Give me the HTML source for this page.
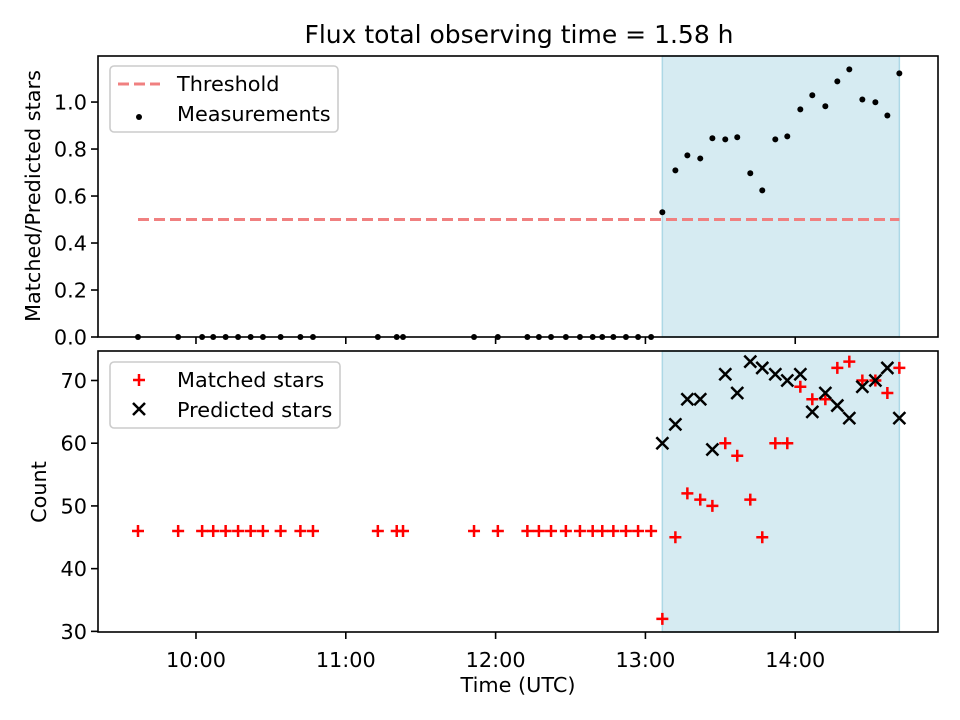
<!DOCTYPE html>
<html><head><meta charset="utf-8"><style>
body{margin:0;background:#fff}
svg{display:block;font-family:"DejaVu Sans","Liberation Sans",sans-serif}
</style></head><body>
<svg id="chart" width="960" height="720" viewBox="0 0 960 720" xmlns="http://www.w3.org/2000/svg"></svg>
<script>
const times=[9.613,9.881,10.041,10.115,10.198,10.281,10.365,10.447,10.565,10.697,10.781,11.214,11.340,11.382,11.856,12.015,12.212,12.289,12.370,12.469,12.563,12.648,12.712,12.786,12.870,12.951,13.038,
13.113,13.200,13.280,13.366,13.447,13.533,13.613,13.700,13.780,13.867,13.947,14.034,14.114,14.201,14.281,14.361,14.448,14.535,14.615,14.695];
const ratio=[0,0,0,0,0,0,0,0,0,0,0,0,0,0,0,0,0,0,0,0,0,0,0,0,0,0,0,
0.531,0.709,0.773,0.760,0.846,0.841,0.850,0.697,0.624,0.841,0.854,0.969,1.029,0.982,1.088,1.139,1.011,0.999,0.943,1.122];
const matched=[46,46,46,46,46,46,46,46,46,46,46,46,46,46,46,46,46,46,46,46,46,46,46,46,46,46,46,
32,45,52,51,50,60,58,51,45,60,60,69,67,67,72,73,70,70,68,72];
const predicted=[null,null,null,null,null,null,null,null,null,null,null,null,null,null,null,null,null,null,null,null,null,null,null,null,null,null,null,
60,63,67,67,59,71,68,73,72,71,70,71,65,68,66,64,69,70,72,64];
const threshold=0.5;
const shadeStart=13.113, shadeEnd=14.695;
const xTicks=[10,11,12,13,14];
const xTickLabels=["10:00","11:00","12:00","13:00","14:00"];
const topTicks=[0,0.2,0.4,0.6,0.8,1.0];
const botTicks=[30,40,50,60,70];

const NS="http://www.w3.org/2000/svg";
const svg=document.getElementById('chart');
const FS='20.8px';
function el(tag,attrs,parent,text){const e=document.createElementNS(NS,tag);for(const k in attrs)e.setAttribute(k,attrs[k]);if(text!==undefined)e.textContent=text;(parent||svg).appendChild(e);return e;}
const L=98,R=938;
const x=h=>L+(h-9.346)*(R-L)/(14.953-9.346);
const T={top:56,bot:337,min:0,max:1.196};
const B={top:351,bot:632,min:29.9,max:74.7};
const y1=v=>T.bot-(v-T.min)*(T.bot-T.top)/(T.max-T.min);
const y2=v=>B.bot-(v-B.min)*(B.bot-B.top)/(B.max-B.min);

let e=el('text',{x:519,y:43,style:'font-size:25px','text-anchor':'middle',fill:'#000'},svg,'Flux total observing time = 1.58 h');



[[T,'top'],[B,'bottom']].forEach(([P,nm])=>{
  const r=el('rect',{x:x(shadeStart),y:P.top,width:x(shadeEnd)-x(shadeStart),height:P.bot-P.top,fill:'#add8e6','fill-opacity':0.5,stroke:'#add8e6','stroke-width':1.5});
  
  
});

let th=el('line',{x1:x(times[0]),x2:x(times[times.length-1]),y1:y1(threshold),y2:y1(threshold),stroke:'#f08080','stroke-width':3,'stroke-dasharray':'11,5'});


times.forEach((t,i)=>{
  const c=el('circle',{cx:x(t),cy:y1(ratio[i]),r:3,fill:'#000'});
  
  
});
times.forEach((t,i)=>{
  const cx=x(t),cy=y2(matched[i]);
  const p=el('path',{d:`M${cx-6},${cy}H${cx+6}M${cx},${cy-6}V${cy+6}`,stroke:'#f00','stroke-width':2.5,fill:'none'});
  
  
});
times.forEach((t,i)=>{
  if(predicted[i]===null)return;
  const cx=x(t),cy=y2(predicted[i]);
  const p=el('path',{d:`M${cx-6},${cy-6}L${cx+6},${cy+6}M${cx-6},${cy+6}L${cx+6},${cy-6}`,stroke:'#000','stroke-width':2.5,fill:'none'});
  
  
});

[[T,'top'],[B,'bottom']].forEach(([P,nm])=>{
  const f=el('rect',{x:L,y:P.top,width:R-L,height:P.bot-P.top,fill:'none',stroke:'#000','stroke-width':1.6});
  
  
  xTicks.forEach((h,i)=>{
    el('line',{x1:x(h),x2:x(h),y1:P.bot,y2:P.bot+7,stroke:'#000','stroke-width':1.6});
    if(nm==='bottom'){
      const t=el('text',{x:x(h),y:P.bot+35,style:'font-size:'+FS,'text-anchor':'middle'},svg,xTickLabels[i]);
      
      
    }
  });
});
topTicks.forEach(v=>{
  el('line',{x1:L-7,x2:L,y1:y1(v),y2:y1(v),stroke:'#000','stroke-width':1.6});
  const t=el('text',{x:L-11,y:y1(v)+7.5,style:'font-size:'+FS,'text-anchor':'end'},svg,v.toFixed(1));
  
  
});
botTicks.forEach(v=>{
  el('line',{x1:L-7,x2:L,y1:y2(v),y2:y2(v),stroke:'#000','stroke-width':1.6});
  const t=el('text',{x:L-11,y:y2(v)+7.5,style:'font-size:'+FS,'text-anchor':'end'},svg,String(v));
  
  
});
e=el('text',{x:0,y:0,style:'font-size:'+FS,'text-anchor':'middle',transform:'translate(40,196) rotate(-90)'},svg,'Matched/Predicted stars');


e=el('text',{x:0,y:0,style:'font-size:'+FS,'text-anchor':'middle',transform:'translate(46,492) rotate(-90)'},svg,'Count');


e=el('text',{x:518,y:692,style:'font-size:'+FS,'text-anchor':'middle'},svg,'Time (UTC)');



let lg=el('g',{});


el('rect',{x:110,y:66,width:228,height:66,rx:4,fill:'#fff','fill-opacity':0.8,stroke:'#ccc','stroke-width':1.6},lg);
el('line',{x1:118,x2:160,y1:84,y2:84,stroke:'#f08080','stroke-width':3,'stroke-dasharray':'11,5'},lg);
el('text',{x:177,y:91,style:'font-size:'+FS},lg,'Threshold');
el('circle',{cx:139,cy:117,r:3,fill:'#000'},lg);
el('text',{x:177,y:121,style:'font-size:'+FS},lg,'Measurements');

lg=el('g',{});


el('rect',{x:110,y:362,width:230,height:66,rx:4,fill:'#fff','fill-opacity':0.8,stroke:'#ccc','stroke-width':1.6},lg);
el('path',{d:'M133,380H145M139,374V386',stroke:'#f00','stroke-width':2.5},lg);
el('text',{x:177,y:387,style:'font-size:'+FS},lg,'Matched stars');
el('path',{d:'M133,403L145,415M133,415L145,403',stroke:'#000','stroke-width':2.5},lg);
el('text',{x:177,y:417,style:'font-size:'+FS},lg,'Predicted stars');
</script>
</body></html>
